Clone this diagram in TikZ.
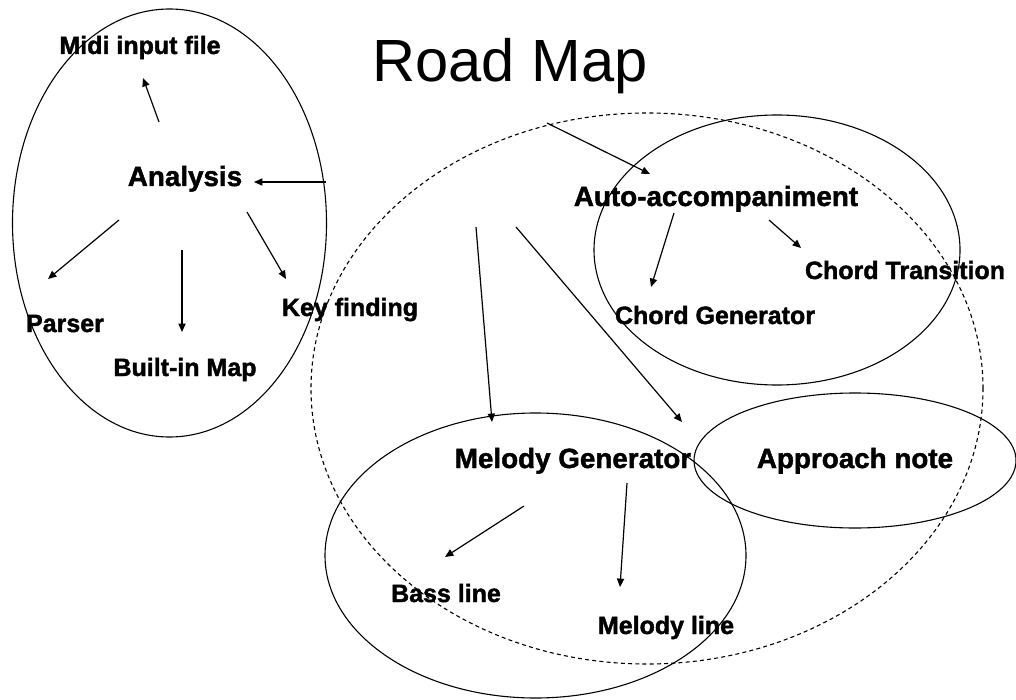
\documentclass[tikz,border=0pt]{standalone}
\usepackage{fontspec}
\setmainfont{Liberation Sans}[BoldFeatures={FakeBold=1.6}]
\usetikzlibrary{arrows.meta,shapes.geometric}
\tikzset{
  grp/.style={draw, ellipse, line width=0.55pt, inner sep=0pt},
  dgrp/.style={grp, dash pattern=on 2pt off 1.6pt},
  lblS/.style={anchor=base, inner sep=0pt, font=\fontsize{12.5}{15}\selectfont\bfseries},
  lblL/.style={anchor=base, inner sep=0pt, font=\fontsize{13.9}{16}\selectfont\bfseries},
  arr/.style={-{Triangle[length=4.2pt,width=3.6pt]}, line width=0.6pt},
}
\begin{document}
\begin{tikzpicture}[x=0.5pt,y=-0.5pt]
\useasboundingbox (0,0) rectangle (1016,700);
% groups
\node[grp, minimum width=157pt, minimum height=214pt] (gleft) at (169.5,223) {};
\node[dgrp, minimum width=336pt, minimum height=275.5pt] (gdash) at (647,388.5) {};
\node[grp, minimum width=183pt, minimum height=135pt] (gauto) at (777,250) {};
\node[grp, minimum width=210.5pt, minimum height=142.5pt] (gmel) at (535.5,555.5) {};
\node[grp, minimum width=161pt, minimum height=67.5pt] (gappr) at (855,460.5) {};
% title
\node[anchor=base, inner sep=0pt, font=\fontsize{29.8}{34}\selectfont] (title) at (510,82) {Road Map};
% labels
\node[lblS] (midi) at (140,54) {Midi input file};
\node[lblL] (analysis) at (185,186) {Analysis};
\node[lblS] (parser) at (65,332) {Parser};
\node[lblS] (builtin) at (185,376) {Built-in Map};
\node[lblS] (key) at (350,316) {Key finding};
\node[lblL] (auto) at (716,206) {Auto-accompaniment};
\node[lblS] (ctrans) at (905,279) {Chord Transition};
\node[lblS] (cgen) at (715,324) {Chord Generator};
\node[lblL] (melgen) at (573,468) {Melody Generator};
\node[lblL] (approach) at (855,468) {Approach note};
\node[lblS] (bass) at (446,602) {Bass line};
\node[lblS] (melline) at (666,634) {Melody line};
% arrow end points
\coordinate (a1s) at (159,122); \coordinate (a1e) at (143,78);
\coordinate (a2s) at (326,182); \coordinate (a2e) at (254,182);
\coordinate (a3s) at (119,220); \coordinate (a3e) at (48,279);
\coordinate (a4s) at (182,250); \coordinate (a4e) at (182,332);
\coordinate (a5s) at (247,212); \coordinate (a5e) at (286,279);
\coordinate (a6s) at (547,123); \coordinate (a6e) at (650,174);
\coordinate (a7s) at (476,227); \coordinate (a7e) at (492,422);
\coordinate (a8s) at (516,227); \coordinate (a8e) at (682,422);
\coordinate (a9s) at (674,213); \coordinate (a9e) at (651,287);
\coordinate (a10s) at (769,220); \coordinate (a10e) at (801,248);
\coordinate (a11s) at (524,506); \coordinate (a11e) at (445,557);
\coordinate (a12s) at (627,483); \coordinate (a12e) at (620,587);
% arrows
\draw[arr] (a1s) -- (a1e);
\draw[arr] (a2s) -- (a2e);
\draw[arr] (a3s) -- (a3e);
\draw[arr] (a4s) -- (a4e);
\draw[arr] (a5s) -- (a5e);
\draw[arr] (a6s) -- (a6e);
\draw[arr] (a7s) -- (a7e);
\draw[arr] (a8s) -- (a8e);
\draw[arr] (a9s) -- (a9e);
\draw[arr] (a10s) -- (a10e);
\draw[arr] (a11s) -- (a11e);
\draw[arr] (a12s) -- (a12e);
\end{tikzpicture}
\end{document}
